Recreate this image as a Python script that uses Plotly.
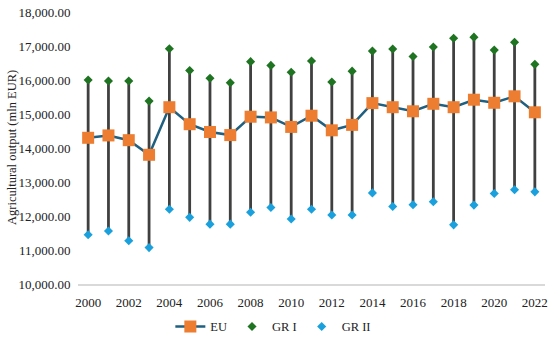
import plotly.graph_objects as go

years = list(range(2000, 2023))
eu = [14300, 14370, 14230, 13800, 15200, 14700, 14470, 14380, 14920, 14900, 14620, 14950,
      14520, 14680, 15320, 15200, 15080, 15300, 15200, 15420, 15330, 15520, 15050]
gr1 = [16000, 15970, 15970, 15380, 16920, 16280, 16050, 15920, 16540, 16430, 16230, 16560,
       15940, 16260, 16850, 16910, 16690, 16970, 17230, 17260, 16880, 17110, 16460]
gr2 = [11450, 11560, 11270, 11070, 12200, 11960, 11760, 11760, 12110, 12250, 11910, 12200,
       12030, 12030, 12680, 12280, 12330, 12420, 11740, 12320, 12660, 12770, 12710]

font = "Liberation Serif, DejaVu Serif, serif"

hx, hy = [], []
for x, lo, hi in zip(years, gr2, gr1):
    hx += [x, x, None]
    hy += [lo, hi, None]

fig = go.Figure()
fig.add_trace(go.Scatter(x=hx, y=hy, mode="lines", line=dict(color="#404040", width=2.8),
                         showlegend=False, hoverinfo="skip"))
fig.add_trace(go.Scatter(x=years, y=eu, name="EU", mode="lines+markers",
                         line=dict(color="#1F5F7F", width=2.5),
                         marker=dict(symbol="square", size=12, color="#ED7D31")))
fig.add_trace(go.Scatter(x=years, y=gr1, name="GR I", mode="markers",
                         marker=dict(symbol="diamond", size=7, color="#1E7421")))
fig.add_trace(go.Scatter(x=years, y=gr2, name="GR II", mode="markers",
                         marker=dict(symbol="diamond", size=7, color="#1AA0DC")))

fig.update_layout(
    width=550, height=338,
    margin=dict(l=78, r=5, t=12, b=54, autoexpand=False),
    paper_bgcolor="white", plot_bgcolor="white",
    font=dict(family=font, size=13, color="#222"),
    legend=dict(orientation="h", x=0.497, xanchor="center", xref="container",
                y=0.033, yanchor="middle", yref="container",
                font=dict(size=12.5), itemwidth=30),
    showlegend=True,
)
fig.add_annotation(text="Agricultural output (mln EUR)", textangle=-90,
                   xref="paper", yref="paper", x=(12 - 78) / 467, y=0.5,
                   xanchor="center", yanchor="middle", showarrow=False,
                   font=dict(size=12.5, family=font, color="#222"))
fig.update_xaxes(range=[1999.5, 2022.5], tickmode="array", tickvals=list(range(2000, 2023, 2)),
                 showgrid=False, showline=True, linecolor="#D9D9D9", linewidth=2,
                 ticks="", zeroline=False, automargin=False, ticklabelstandoff=5,
                 ticklabeloverflow="allow")
fig.update_yaxes(range=[10000, 18000], dtick=1000, tickformat=",.2f", showgrid=False,
                 showline=False, zeroline=False, ticks="", ticksuffix="  ", automargin=False,
                 ticklabeloverflow="allow")

fig.write_html("out.html", config={"displayModeBar": False},
               post_script="document.body.style.margin='0px';")
